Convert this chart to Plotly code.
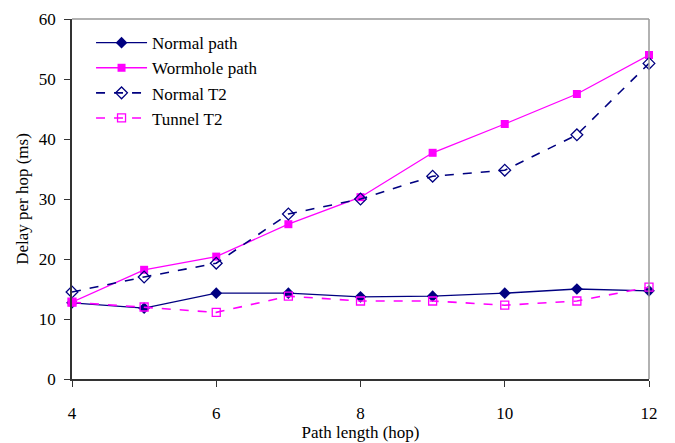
import plotly.graph_objects as go

hops = [4, 5, 6, 7, 8, 9, 10, 11, 12]
normal_path = [12.7, 11.8, 14.3, 14.3, 13.7, 13.8, 14.3, 15.0, 14.7]
wormhole_path = [12.8, 18.2, 20.4, 25.8, 30.3, 37.7, 42.5, 47.5, 54.0]
normal_t2 = [14.5, 17.0, 19.3, 27.5, 30.0, 33.8, 34.8, 40.7, 52.6]
tunnel_t2 = [12.8, 12.0, 11.1, 13.8, 13.0, 13.0, 12.3, 13.0, 15.3]

NAVY = "#000080"
MAG = "#FF00FF"

fig = go.Figure()
fig.add_trace(go.Scatter(x=hops, y=normal_path, name="Normal path", mode="lines+markers",
                         line=dict(color=NAVY, width=1.3),
                         marker=dict(symbol="diamond", size=9, color=NAVY), cliponaxis=False))
fig.add_trace(go.Scatter(x=hops, y=wormhole_path, name="Wormhole path", mode="lines+markers",
                         line=dict(color=MAG, width=1.3),
                         marker=dict(symbol="square", size=8, color=MAG), cliponaxis=False))
fig.add_trace(go.Scatter(x=hops, y=normal_t2, name="Normal T2", mode="lines+markers",
                         line=dict(color=NAVY, width=1.6, dash="dash"),
                         marker=dict(symbol="diamond-open", size=9, color=NAVY, line=dict(width=1.3)),
                         cliponaxis=False))
fig.add_trace(go.Scatter(x=hops, y=tunnel_t2, name="Tunnel T2", mode="lines+markers",
                         line=dict(color=MAG, width=1.6, dash="dash"),
                         marker=dict(symbol="square-open", size=8, color=MAG, line=dict(width=1.3)),
                         cliponaxis=False))

font = "Liberation Serif"
fig.update_layout(
    width=675, height=443,
    margin=dict(l=72, r=26, t=19, b=64),
    paper_bgcolor="white", plot_bgcolor="white",
    font=dict(family=font, size=17, color="black"),
    showlegend=True,
    legend=dict(x=0.033, y=0.983, xanchor="left", yanchor="top",
                bgcolor="rgba(0,0,0,0)", font=dict(family=font, size=17),
                tracegroupgap=0, itemwidth=51),
    shapes=[
        dict(type="line", xref="paper", yref="paper", x0=0, x1=1, y0=1, y1=1,
             line=dict(color="#999999", width=1.5)),
        dict(type="line", xref="paper", yref="paper", x0=1, x1=1, y0=0, y1=1,
             line=dict(color="#999999", width=1.5)),
    ],
)
fig.update_xaxes(range=[4, 12], tickvals=[4, 6, 8, 10, 12], showgrid=False, zeroline=False,
                 showline=True, linecolor="#333333", linewidth=1.5, automargin=False,
                 ticks="outside", ticklen=6, tickcolor="#333333", ticklabelstandoff=12,
                 title=dict(text="Path length (hop)", standoff=0,
                            font=dict(family=font, size=17)),
                 tickfont=dict(family=font, size=17))
fig.update_yaxes(range=[0, 60], tickvals=[0, 10, 20, 30, 40, 50, 60], showgrid=False, zeroline=False,
                 showline=True, linecolor="#333333", linewidth=1.5, automargin=False,
                 ticks="outside", ticklen=6, tickcolor="#333333", ticklabelstandoff=5,
                 title=dict(text="Delay per hop (ms)", standoff=6,
                            font=dict(family=font, size=17)),
                 tickfont=dict(family=font, size=17))

fig.write_html("out.html")
